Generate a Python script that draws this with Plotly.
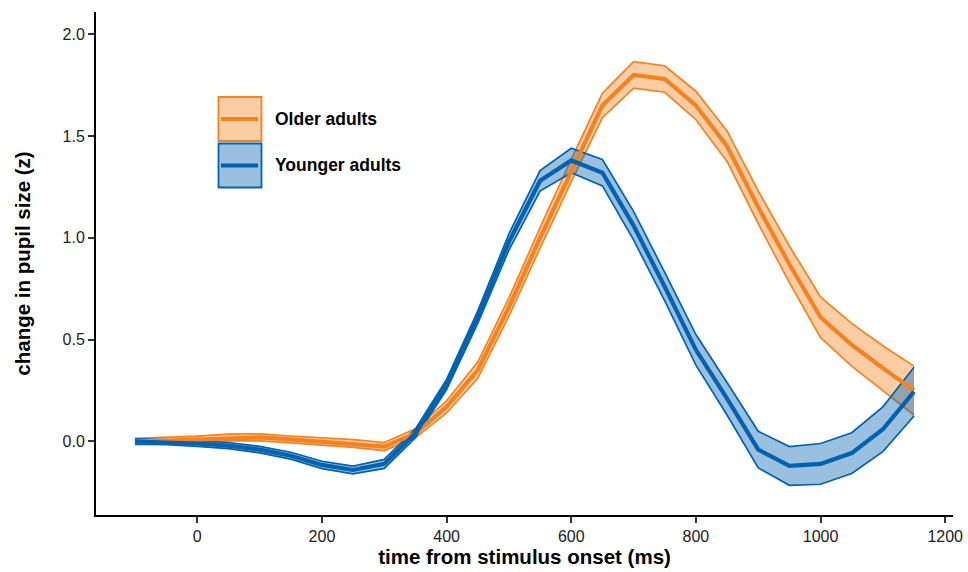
import plotly.graph_objects as go

# Time from stimulus onset (ms)
time_ms = [-100, -50, 0, 50, 100, 150, 200, 250, 300, 350, 400, 450, 500,
           550, 600, 650, 700, 750, 800, 850, 900, 950, 1000, 1050, 1100, 1150]

# Mean pupil change (z) and ribbon half-width per group
older_mean = [0.00, 0.005, 0.01, 0.02, 0.02, 0.01, 0.00, -0.01, -0.025, 0.04,
              0.17, 0.35, 0.66, 1.00, 1.33, 1.65, 1.80, 1.78, 1.65, 1.45,
              1.15, 0.87, 0.61, 0.475, 0.36, 0.25]
older_err = [0.015, 0.015, 0.016, 0.016, 0.017, 0.017, 0.018, 0.019, 0.02, 0.022,
             0.03, 0.04, 0.045, 0.05, 0.055, 0.06, 0.065, 0.065, 0.07, 0.075,
             0.08, 0.09, 0.10, 0.105, 0.11, 0.12]

younger_mean = [0.00, -0.003, -0.01, -0.02, -0.04, -0.07, -0.115, -0.14, -0.11, 0.04,
                0.28, 0.61, 0.98, 1.28, 1.38, 1.32, 1.06, 0.76, 0.45, 0.21,
                -0.04, -0.12, -0.11, -0.057, 0.06, 0.245]
younger_err = [0.013, 0.013, 0.014, 0.015, 0.016, 0.017, 0.018, 0.019, 0.022, 0.022,
               0.025, 0.03, 0.04, 0.05, 0.06, 0.065, 0.07, 0.07, 0.075, 0.08,
               0.09, 0.095, 0.10, 0.10, 0.11, 0.12]

groups = ["Older adults", "Younger adults"]
line_colors = ["#F5821F", "#0062B0"]
fill_colors = ["rgba(245,130,31,0.4)", "rgba(0,98,176,0.4)"]

FONT = "Liberation Sans, Arial, sans-serif"
W, H = 968, 572
ML, MR, MT, MB = 96, 15, 12, 57

fig = go.Figure()

series = [(older_mean, older_err), (younger_mean, younger_err)]

# Confidence ribbons (outlined upper and lower edges)
for (mean, err), lc, fc, name in zip(series, line_colors, fill_colors, groups):
    lower = [m - e for m, e in zip(mean, err)]
    upper = [m + e for m, e in zip(mean, err)]
    fig.add_trace(go.Scatter(x=time_ms, y=lower, mode="lines",
                             line=dict(color=lc, width=1.7),
                             showlegend=False, hoverinfo="skip"))
    fig.add_trace(go.Scatter(x=time_ms, y=upper, mode="lines",
                             line=dict(color=lc, width=1.7),
                             fill="tonexty", fillcolor=fc,
                             showlegend=False, hoverinfo="skip"))

# Mean lines
for (mean, err), lc, name in zip(series, line_colors, groups):
    fig.add_trace(go.Scatter(x=time_ms, y=mean, mode="lines", name=name,
                             line=dict(color=lc, width=4.2), showlegend=False))


def px_x(p):
    return (p - ML) / (W - ML - MR)


def px_y(p):
    return (H - MB - p) / (H - MT - MB)


# Hand-drawn legend keys
shapes = []
annotations = []
key_tops = [97, 143.5]
for top, lc, fc, name in zip(key_tops, line_colors, fill_colors, groups):
    shapes.append(dict(type="rect", xref="paper", yref="paper",
                       x0=px_x(218.5), x1=px_x(261.5),
                       y0=px_y(top + 44), y1=px_y(top),
                       line=dict(color=lc, width=1.8), fillcolor=fc))
    mid = top + 22
    shapes.append(dict(type="line", xref="paper", yref="paper",
                       x0=px_x(221), x1=px_x(258),
                       y0=px_y(mid), y1=px_y(mid),
                       line=dict(color=lc, width=4)))
    annotations.append(dict(xref="paper", yref="paper", x=px_x(273), y=px_y(mid),
                            xanchor="left", yanchor="middle", showarrow=False,
                            text="<b>%s</b>" % name,
                            font=dict(family=FONT, size=17.5, color="#000000")))

fig.update_layout(
    width=W, height=H,
    margin=dict(l=ML, r=MR, t=MT, b=MB, autoexpand=False),
    paper_bgcolor="white", plot_bgcolor="white",
    shapes=shapes, annotations=annotations,
    showlegend=False,
    font=dict(family=FONT),
)

fig.update_xaxes(
    range=[-162.5, 1212.5],
    tickvals=[0, 200, 400, 600, 800, 1000, 1200],
    showgrid=False, zeroline=False,
    showline=True, linecolor="#000000", linewidth=2,
    ticks="outside", ticklen=6, tickwidth=1.5, tickcolor="#333333",
    tickfont=dict(family=FONT, size=16, color="#222222"),
    title=dict(text="<b>time from stimulus onset (ms)</b>",
               font=dict(family=FONT, size=20.5, color="#000000"), standoff=5),
)
fig.update_yaxes(
    range=[-0.361, 2.109],
    tickvals=[0.0, 0.5, 1.0, 1.5, 2.0],
    ticktext=["0.0", "0.5", "1.0", "1.5", "2.0"],
    showgrid=False, zeroline=False,
    showline=True, linecolor="#000000", linewidth=2,
    ticks="outside", ticklen=6, tickwidth=1.5, tickcolor="#333333",
    tickfont=dict(family=FONT, size=16, color="#222222"),
    title=dict(text="<b>change in pupil size (z)</b>",
               font=dict(family=FONT, size=20.5, color="#000000"), standoff=26),
)

fig.write_html("out.html")
